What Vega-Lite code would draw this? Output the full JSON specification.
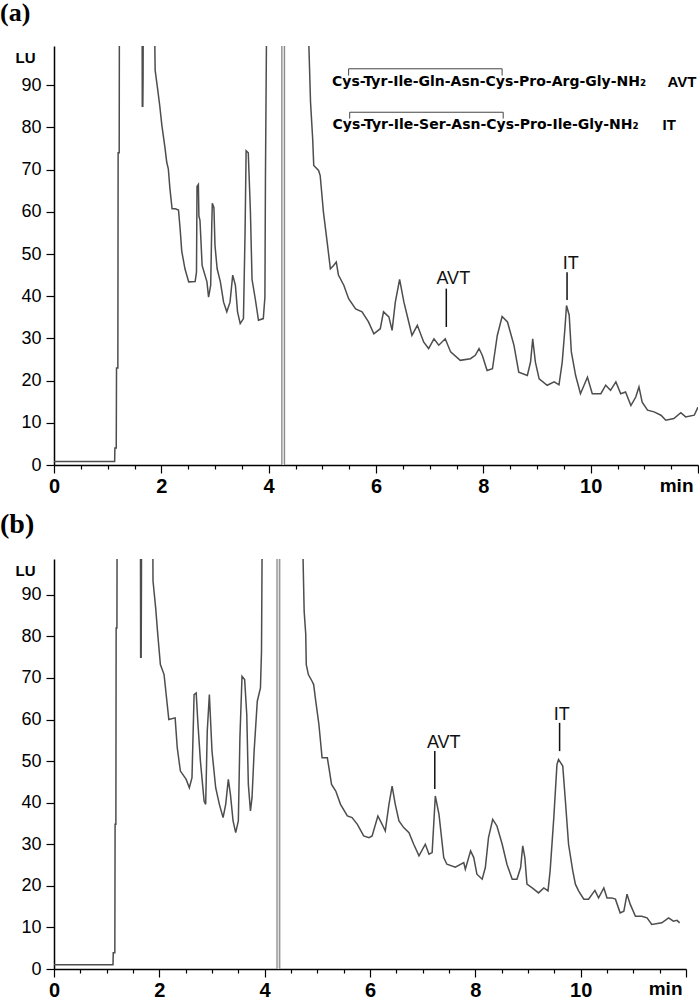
{
  "$schema": "https://vega.github.io/schema/vega-lite/v6.json",
  "padding": {"left": 0, "top": 0, "right": 0, "bottom": 0},
  "background": "white",
  "spacing": 15,
  "config": {"view": {"stroke": null}},
  "datasets": {
    "traceA": [
      {"t":0,"lu":0.8},{"t":1.13,"lu":0.8},{"t":1.135,"lu":4},{"t":1.16,"lu":4},{"t":1.165,"lu":23},{"t":1.19,"lu":23},{"t":1.195,"lu":74},{"t":1.215,"lu":74},{"t":1.22,"lu":120},
      {"t":1.64,"lu":120},{"t":1.645,"lu":85},{"t":1.655,"lu":85},{"t":1.66,"lu":92},{"t":1.665,"lu":120},
      {"t":1.87,"lu":120},{"t":1.88,"lu":97.9},{"t":1.885,"lu":93.5},{"t":1.93,"lu":89.2},{"t":1.97,"lu":85.2},{"t":2.01,"lu":80.5},{"t":2.07,"lu":75},{"t":2.1,"lu":71.8},{"t":2.13,"lu":70.2},{"t":2.16,"lu":65.5},{"t":2.2,"lu":60.7},{"t":2.26,"lu":60.7},{"t":2.32,"lu":60.4},{"t":2.35,"lu":56},{"t":2.38,"lu":50.7},{"t":2.44,"lu":46.5},{"t":2.51,"lu":43.4},{"t":2.63,"lu":43.5},{"t":2.655,"lu":45.7},{"t":2.665,"lu":66},{"t":2.69,"lu":66.5},{"t":2.7,"lu":59},{"t":2.72,"lu":58},{"t":2.76,"lu":47.3},{"t":2.85,"lu":43.4},{"t":2.88,"lu":39.8},{"t":2.92,"lu":42.6},{"t":2.94,"lu":57},{"t":2.95,"lu":62},{"t":2.98,"lu":61},{"t":3.0,"lu":52},{"t":3.04,"lu":46.5},{"t":3.1,"lu":43.4},{"t":3.16,"lu":38.6},{"t":3.22,"lu":36.3},{"t":3.28,"lu":38.6},{"t":3.33,"lu":45},{"t":3.38,"lu":42.6},{"t":3.42,"lu":36.3},{"t":3.47,"lu":33.5},{"t":3.53,"lu":34.7},{"t":3.56,"lu":55},{"t":3.58,"lu":74.5},{"t":3.62,"lu":74},{"t":3.66,"lu":60},{"t":3.69,"lu":44},{"t":3.75,"lu":39.4},{"t":3.81,"lu":34.3},{"t":3.9,"lu":34.7},{"t":3.93,"lu":39.8},{"t":3.94,"lu":67.8},{"t":3.97,"lu":120},
      {"t":4.74,"lu":120},{"t":4.75,"lu":99},{"t":4.78,"lu":86},{"t":4.82,"lu":77.3},{"t":4.84,"lu":71},{"t":4.93,"lu":69.8},{"t":4.96,"lu":68.6},{"t":5.02,"lu":60},{"t":5.09,"lu":52.8},{"t":5.15,"lu":46.5},{"t":5.21,"lu":47.3},{"t":5.26,"lu":48.1},{"t":5.3,"lu":45},{"t":5.4,"lu":42.6},{"t":5.49,"lu":39.4},{"t":5.62,"lu":37},{"t":5.74,"lu":36.3},{"t":5.86,"lu":33.9},{"t":5.96,"lu":31.1},{"t":6.08,"lu":32.3},{"t":6.14,"lu":36.3},{"t":6.24,"lu":35.1},{"t":6.3,"lu":31.9},{"t":6.36,"lu":38.6},{"t":6.44,"lu":44},{"t":6.52,"lu":38.6},{"t":6.61,"lu":33.9},{"t":6.67,"lu":30.7},{"t":6.77,"lu":33.1},{"t":6.89,"lu":29.1},{"t":6.98,"lu":27.6},{"t":7.08,"lu":29.9},{"t":7.17,"lu":28.4},{"t":7.29,"lu":29.9},{"t":7.39,"lu":26.8},{"t":7.57,"lu":24.8},{"t":7.76,"lu":25.2},{"t":7.85,"lu":26},{"t":7.92,"lu":27.6},{"t":7.98,"lu":26},{"t":8.07,"lu":22.4},{"t":8.17,"lu":22.8},{"t":8.26,"lu":30.7},{"t":8.35,"lu":35.2},{"t":8.45,"lu":33.9},{"t":8.57,"lu":28.4},{"t":8.66,"lu":22},{"t":8.82,"lu":21.2},{"t":8.88,"lu":24.4},{"t":8.92,"lu":29.9},{"t":8.97,"lu":24.4},{"t":9.04,"lu":20.4},{"t":9.19,"lu":18.9},{"t":9.32,"lu":19.7},{"t":9.41,"lu":19},{"t":9.47,"lu":24.4},{"t":9.52,"lu":32.3},{"t":9.55,"lu":37.8},{"t":9.6,"lu":35.5},{"t":9.64,"lu":26.8},{"t":9.72,"lu":21.2},{"t":9.81,"lu":16.9},{"t":9.94,"lu":20.8},{"t":10.03,"lu":16.9},{"t":10.19,"lu":16.9},{"t":10.28,"lu":18.9},{"t":10.37,"lu":17.7},{"t":10.47,"lu":19.7},{"t":10.56,"lu":16.9},{"t":10.65,"lu":17.3},{"t":10.75,"lu":14.1},{"t":10.84,"lu":16.1},{"t":10.9,"lu":18.5},{"t":10.96,"lu":14.9},{"t":11.06,"lu":13},{"t":11.18,"lu":12.6},{"t":11.31,"lu":11.8},{"t":11.4,"lu":10.6},{"t":11.55,"lu":11},{"t":11.68,"lu":12.4},{"t":11.77,"lu":11.4},{"t":11.93,"lu":11.8},{"t":12.0,"lu":13.7}
    ],
    "traceB": [
      {"t":0,"lu":1},{"t":1.12,"lu":1},{"t":1.125,"lu":3.9},{"t":1.155,"lu":3.9},{"t":1.16,"lu":34.8},{"t":1.175,"lu":34.8},{"t":1.18,"lu":82},{"t":1.195,"lu":82},{"t":1.2,"lu":120},
      {"t":1.64,"lu":120},{"t":1.645,"lu":75},{"t":1.655,"lu":75},{"t":1.66,"lu":92},{"t":1.665,"lu":120},
      {"t":1.87,"lu":120},{"t":1.88,"lu":93.3},{"t":1.93,"lu":86.9},{"t":1.97,"lu":80.5},{"t":2.02,"lu":73.2},{"t":2.09,"lu":70.8},{"t":2.15,"lu":63.6},{"t":2.18,"lu":60},{"t":2.3,"lu":60.4},{"t":2.34,"lu":53.2},{"t":2.4,"lu":47.6},{"t":2.51,"lu":45.6},{"t":2.57,"lu":43.6},{"t":2.62,"lu":46},{"t":2.66,"lu":66},{"t":2.7,"lu":66.4},{"t":2.73,"lu":59.6},{"t":2.78,"lu":50},{"t":2.85,"lu":40.4},{"t":2.88,"lu":39.6},{"t":2.91,"lu":57.2},{"t":2.95,"lu":66},{"t":3.0,"lu":52.4},{"t":3.07,"lu":43.6},{"t":3.14,"lu":39.6},{"t":3.21,"lu":36.4},{"t":3.26,"lu":39.6},{"t":3.31,"lu":45.6},{"t":3.35,"lu":42},{"t":3.4,"lu":35.6},{"t":3.45,"lu":32.8},{"t":3.5,"lu":35.6},{"t":3.53,"lu":55.6},{"t":3.57,"lu":70.4},{"t":3.62,"lu":69.6},{"t":3.66,"lu":61.2},{"t":3.69,"lu":44.4},{"t":3.73,"lu":38},{"t":3.76,"lu":41.2},{"t":3.8,"lu":52.4},{"t":3.86,"lu":64.4},{"t":3.92,"lu":67.6},{"t":3.94,"lu":76.4},{"t":3.95,"lu":98},{"t":3.96,"lu":120},
      {"t":4.72,"lu":120},{"t":4.73,"lu":98},{"t":4.75,"lu":86},{"t":4.78,"lu":80.5},{"t":4.79,"lu":73.2},{"t":4.83,"lu":70.8},{"t":4.9,"lu":69.2},{"t":4.93,"lu":68.4},{"t":4.97,"lu":64.4},{"t":5.03,"lu":58.8},{"t":5.09,"lu":50.8},{"t":5.19,"lu":50.8},{"t":5.22,"lu":48.4},{"t":5.27,"lu":44.4},{"t":5.35,"lu":42.8},{"t":5.44,"lu":39.6},{"t":5.57,"lu":36.8},{"t":5.66,"lu":36.4},{"t":5.76,"lu":34.8},{"t":5.88,"lu":32},{"t":5.98,"lu":31.6},{"t":6.04,"lu":32},{"t":6.15,"lu":36.8},{"t":6.23,"lu":34.8},{"t":6.29,"lu":33.2},{"t":6.36,"lu":39.6},{"t":6.42,"lu":44},{"t":6.48,"lu":39.6},{"t":6.55,"lu":35.6},{"t":6.64,"lu":34},{"t":6.74,"lu":32.8},{"t":6.83,"lu":30},{"t":6.93,"lu":27.2},{"t":7.05,"lu":30},{"t":7.12,"lu":27.6},{"t":7.18,"lu":28},{"t":7.24,"lu":41.6},{"t":7.31,"lu":37.2},{"t":7.4,"lu":26.8},{"t":7.46,"lu":25.2},{"t":7.62,"lu":24.5},{"t":7.78,"lu":25.6},{"t":7.81,"lu":24},{"t":7.91,"lu":28.4},{"t":7.97,"lu":26.8},{"t":8.03,"lu":22.8},{"t":8.13,"lu":21.6},{"t":8.19,"lu":24.4},{"t":8.25,"lu":31.6},{"t":8.33,"lu":36},{"t":8.41,"lu":34.4},{"t":8.51,"lu":30},{"t":8.6,"lu":25.2},{"t":8.7,"lu":21.6},{"t":8.79,"lu":21.6},{"t":8.86,"lu":24.4},{"t":8.9,"lu":29.6},{"t":8.94,"lu":26.8},{"t":8.98,"lu":20.4},{"t":9.08,"lu":19.5},{"t":9.2,"lu":18.3},{"t":9.3,"lu":19.5},{"t":9.38,"lu":18.8},{"t":9.42,"lu":23.6},{"t":9.49,"lu":36.4},{"t":9.55,"lu":49.2},{"t":9.58,"lu":50.4},{"t":9.66,"lu":48.8},{"t":9.71,"lu":40.4},{"t":9.77,"lu":30},{"t":9.85,"lu":23.6},{"t":9.9,"lu":20.4},{"t":9.96,"lu":18.8},{"t":10.06,"lu":16.8},{"t":10.15,"lu":16.8},{"t":10.27,"lu":18.9},{"t":10.34,"lu":17.1},{"t":10.44,"lu":19.5},{"t":10.5,"lu":17.1},{"t":10.59,"lu":17.1},{"t":10.66,"lu":16.8},{"t":10.75,"lu":13.5},{"t":10.82,"lu":13.9},{"t":10.88,"lu":18},{"t":10.94,"lu":15.6},{"t":11.04,"lu":12.7},{"t":11.16,"lu":12.7},{"t":11.26,"lu":12.3},{"t":11.35,"lu":10.7},{"t":11.54,"lu":11.1},{"t":11.67,"lu":12.3},{"t":11.76,"lu":11.5},{"t":11.83,"lu":11.7},{"t":11.88,"lu":11.1}
    ],
    "sepA": [{"t":4.27,"lu":0,"lu2":99.3}],
    "sepB": [{"t":4.26,"lu":0,"lu2":98.6}],
    "markA": [{"t":7.31,"lu":32.7,"lu2":41.8},{"t":9.56,"lu":39.1,"lu2":45.7}],
    "labelA": [{"t":7.44,"lu":44.0,"label":"AVT"},{"t":9.63,"lu":47.7,"label":"IT"}],
    "markB": [{"t":7.23,"lu":43.3,"lu2":52.4},{"t":9.6,"lu":52.4,"lu2":59.2}],
    "labelB": [{"t":7.4,"lu":54.4,"label":"AVT"},{"t":9.64,"lu":61.2,"label":"IT"}],
    "peptides": [
      {"t":5.18,"lu":90.8,"label":"Cys-Tyr-Ile-Gln-Asn-Cys-Pro-Arg-Gly-NH₂"},
      {"t":5.19,"lu":80.5,"label":"Cys-Tyr-Ile-Ser-Asn-Cys-Pro-Ile-Gly-NH₂"}
    ],
    "pepnames": [
      {"t":11.43,"lu":90.8,"label":"AVT"},
      {"t":11.34,"lu":80.5,"label":"IT"}
    ],
    "brackets": [
      {"g":1,"i":1,"t":5.49,"lu":92.3},{"g":1,"i":2,"t":5.49,"lu":93.9},{"g":1,"i":3,"t":8.35,"lu":93.9},{"g":1,"i":4,"t":8.35,"lu":92.3},
      {"g":2,"i":1,"t":5.51,"lu":82.1},{"g":2,"i":2,"t":5.51,"lu":83.6},{"g":2,"i":3,"t":8.37,"lu":83.6},{"g":2,"i":4,"t":8.37,"lu":82.1}
    ]
  },
  "vconcat": [
    {
      "title": {"text": "(a)", "anchor": "start", "frame": "group", "dx": -54, "font": "Liberation Serif", "fontSize": 26, "fontWeight": "bold", "color": "#000", "baseline": "bottom", "offset": -8},
      "width": 644,
      "height": 419,
      "encoding": {
        "x": {"field": "t", "type": "quantitative", "scale": {"domain": [0, 12], "nice": false, "zero": false},
          "axis": {"values": [0,0.5,1,1.5,2,2.5,3,3.5,4,4.5,5,5.5,6,6.5,7,7.5,8,8.5,9,9.5,10,10.5,11,11.5,12],
            "labelExpr": "datum.value % 2 === 0 && datum.value < 12 ? format(datum.value, 'd') : ''",
            "tickSize": {"condition": {"test": "datum.value % 2 === 0", "value": 8}, "value": 4},
            "labelPadding": 3, "labelFont": "Liberation Sans", "labelFontSize": 20, "labelFontWeight": "bold", "labelColor": "#000", "labelFlush": false, "labelOverlap": false,
            "domainColor": "#000", "domainWidth": 1.5, "tickColor": "#000", "tickWidth": 1.2, "grid": false,
            "title": "min", "titleX": 639, "titleY": 20, "titleAlign": "right", "titleBaseline": "middle", "titleFont": "Liberation Sans", "titleFontSize": 19, "titleFontWeight": "bold", "titleColor": "#000"}},
        "y": {"field": "lu", "type": "quantitative", "scale": {"domain": [0, 99.3], "nice": false},
          "axis": {"values": [0,10,20,30,40,50,60,70,80,90], "tickSize": 8, "labelPadding": 5, "labelFont": "Liberation Sans", "labelFontSize": 18, "labelColor": "#000", "labelFlush": false,
            "domainColor": "#000", "domainWidth": 1.5, "tickColor": "#000", "tickWidth": 1.2, "grid": false,
            "title": "LU", "titleAngle": 0, "titleX": -39, "titleY": 11, "titleAlign": "left", "titleBaseline": "middle", "titleFont": "Liberation Sans", "titleFontSize": 15, "titleFontWeight": "bold", "titleColor": "#000"}}
      },
      "layer": [
        {"data": {"name": "sepA"}, "mark": {"type": "rule", "color": "#8a8a8a", "strokeWidth": 4}, "encoding": {"y2": {"field": "lu2"}}},
        {"data": {"name": "sepA"}, "mark": {"type": "rule", "color": "#e0e0e0", "strokeWidth": 1.6}, "encoding": {"y2": {"field": "lu2"}}},
        {"data": {"name": "traceA"}, "mark": {"type": "line", "clip": true, "color": "#4d4d4d", "strokeWidth": 1.5}},
        {"data": {"name": "markA"}, "mark": {"type": "rule", "color": "#111", "strokeWidth": 1.5}, "encoding": {"y2": {"field": "lu2"}}},
        {"data": {"name": "labelA"}, "mark": {"type": "text", "font": "Liberation Sans", "fontSize": 18, "color": "#111", "baseline": "middle"}, "encoding": {"text": {"field": "label"}}},
        {"data": {"name": "peptides"}, "mark": {"type": "text", "font": "DejaVu Sans", "fontSize": 14, "fontWeight": "bold", "color": "#000", "align": "left", "baseline": "middle"}, "encoding": {"text": {"field": "label"}}},
        {"data": {"name": "pepnames"}, "mark": {"type": "text", "font": "Liberation Sans", "fontSize": 15, "fontWeight": "bold", "color": "#000", "align": "left", "baseline": "middle"}, "encoding": {"text": {"field": "label"}}},
        {"data": {"name": "brackets"}, "mark": {"type": "line", "color": "#444", "strokeWidth": 1}, "encoding": {"detail": {"field": "g"}, "order": {"field": "i"}}}
      ]
    },
    {
      "title": {"text": "(b)", "anchor": "start", "frame": "group", "dx": -54, "font": "Liberation Serif", "fontSize": 28, "fontWeight": "bold", "color": "#000", "baseline": "bottom", "offset": -10},
      "width": 632,
      "height": 410,
      "encoding": {
        "x": {"field": "t", "type": "quantitative", "scale": {"domain": [0, 12], "nice": false, "zero": false},
          "axis": {"values": [0,0.5,1,1.5,2,2.5,3,3.5,4,4.5,5,5.5,6,6.5,7,7.5,8,8.5,9,9.5,10,10.5,11,11.5,12],
            "labelExpr": "datum.value % 2 === 0 && datum.value < 12 ? format(datum.value, 'd') : ''",
            "tickSize": {"condition": {"test": "datum.value % 2 === 0", "value": 8}, "value": 4},
            "labelPadding": 3, "labelFont": "Liberation Sans", "labelFontSize": 20, "labelFontWeight": "bold", "labelColor": "#000", "labelFlush": false, "labelOverlap": false,
            "domainColor": "#000", "domainWidth": 1.5, "tickColor": "#000", "tickWidth": 1.2, "grid": false,
            "title": "min", "titleX": 628, "titleY": 19, "titleAlign": "right", "titleBaseline": "middle", "titleFont": "Liberation Sans", "titleFontSize": 19, "titleFontWeight": "bold", "titleColor": "#000"}},
        "y": {"field": "lu", "type": "quantitative", "scale": {"domain": [0, 98.6], "nice": false},
          "axis": {"values": [0,10,20,30,40,50,60,70,80,90], "tickSize": 8, "labelPadding": 5, "labelFont": "Liberation Sans", "labelFontSize": 18, "labelColor": "#000", "labelFlush": false,
            "domainColor": "#000", "domainWidth": 1.5, "tickColor": "#000", "tickWidth": 1.2, "grid": false,
            "title": "LU", "titleAngle": 0, "titleX": -39, "titleY": 11, "titleAlign": "left", "titleBaseline": "middle", "titleFont": "Liberation Sans", "titleFontSize": 15, "titleFontWeight": "bold", "titleColor": "#000"}}
      },
      "layer": [
        {"data": {"name": "sepB"}, "mark": {"type": "rule", "color": "#8a8a8a", "strokeWidth": 4}, "encoding": {"y2": {"field": "lu2"}}},
        {"data": {"name": "sepB"}, "mark": {"type": "rule", "color": "#e0e0e0", "strokeWidth": 1.6}, "encoding": {"y2": {"field": "lu2"}}},
        {"data": {"name": "traceB"}, "mark": {"type": "line", "clip": true, "color": "#4d4d4d", "strokeWidth": 1.5}},
        {"data": {"name": "markB"}, "mark": {"type": "rule", "color": "#111", "strokeWidth": 1.5}, "encoding": {"y2": {"field": "lu2"}}},
        {"data": {"name": "labelB"}, "mark": {"type": "text", "font": "Liberation Sans", "fontSize": 18, "color": "#111", "baseline": "middle"}, "encoding": {"text": {"field": "label"}}}
      ]
    }
  ]
}
